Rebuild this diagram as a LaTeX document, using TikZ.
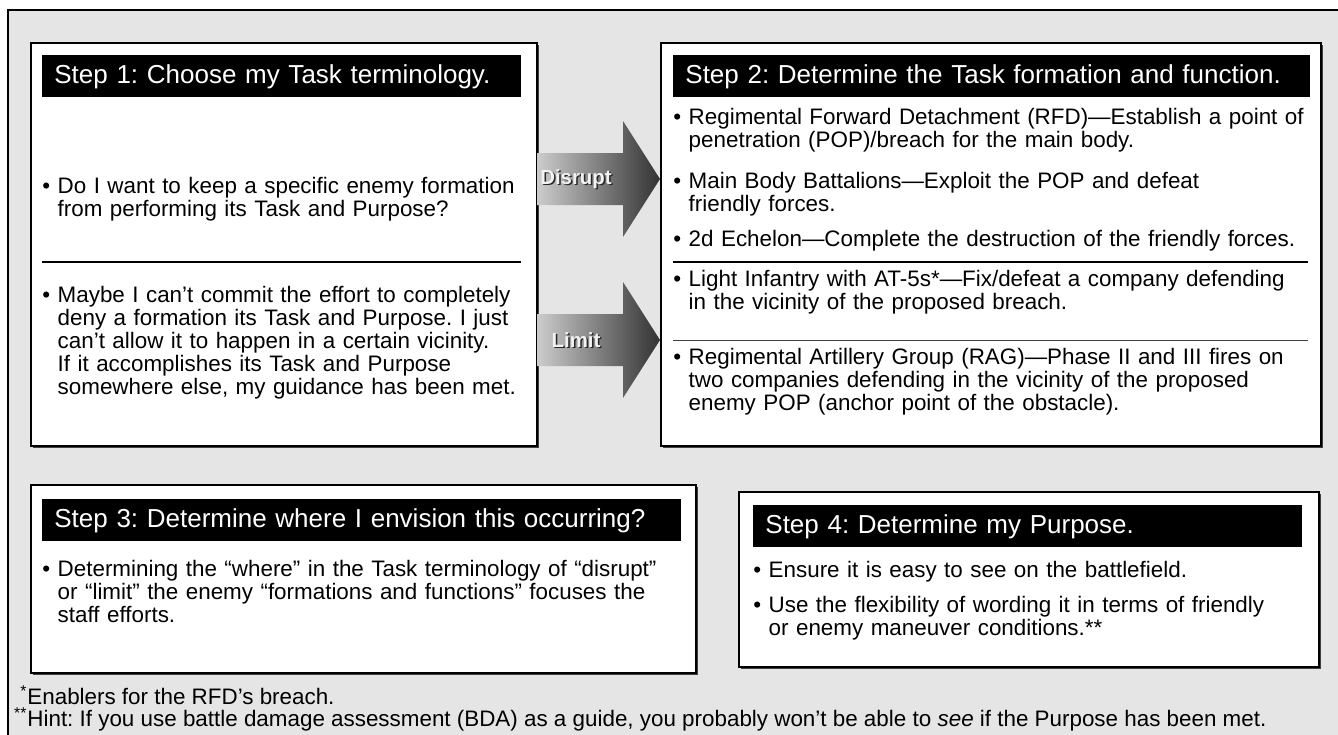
\documentclass[tikz,border=0pt]{standalone}
\usepackage{fontspec}
\setmainfont{Liberation Sans}
\usetikzlibrary{shadows}

\def\px{0.5pt}
\newcommand\txtfont{\frenchspacing\fontsize{11.2}{11.5}\selectfont}
\newcommand\hdfont{\frenchspacing\fontsize{13}{15}\selectfont}
\newlength\bulwd
\newcommand\bitem[1]{\settowidth\bulwd{\textbullet\ }\hangindent=\bulwd\hangafter=1\textbullet\ #1\par}

\begin{document}
\begin{tikzpicture}[x=\px,y=-\px]
  \tikzset{panel/.style={draw,line width=.8pt,fill=white,anchor=north west,inner sep=0pt,
      drop shadow={shadow xshift=1pt,shadow yshift=-1pt,fill=black!75,opacity=1}},
    header/.style={fill=black,text=white,anchor=north west,inner xsep=6pt,inner ysep=0pt,
      minimum height=42*\px,text width=#1*\px-12pt,align=left,font=\hdfont},
    bullets/.style={anchor=base west,inner sep=0pt,text width=#1*\px,align=left,font=\txtfont},
    arrowtext/.style={inner sep=0pt,font=\fontsize{10.2}{12}\selectfont\bfseries}}

  \useasboundingbox (0,0) rectangle (1338,734);
  \draw[fill=black!10,line width=1pt] (8,10) rectangle (1360,760);

  % the four steps
  \node[panel,minimum width=506*\px,minimum height=403*\px] (step1) at (30,42) {};
  \node[panel,minimum width=660*\px,minimum height=403*\px] (step2) at (660,42) {};
  \node[panel,minimum width=665*\px,minimum height=188*\px] (step3) at (30,484) {};
  \node[panel,minimum width=580*\px,minimum height=175*\px] (step4) at (738,491) {};

  \node[header=479] (head1) at (42,55) {Step 1: Choose my Task terminology.};
  \node[header=637] (head2) at (673,55) {Step 2: Determine the Task formation and function.};
  \node[header=639] (head3) at (42,499) {Step 3: Determine where I envision this occurring?};
  \node[header=549] (head4) at (753,505) {Step 4: Determine my Purpose.};

  \node[bullets=600] (task1) at (42,193) {\bitem{Do I want to keep a specific enemy formation\newline from performing its Task and Purpose?}};
  \node[bullets=600] (task2) at (42,302) {\bitem{Maybe I can’t commit the effort to completely\newline deny a formation its Task and Purpose. I just\newline can’t allow it to happen in a certain vicinity.\newline If it accomplishes its Task and Purpose\newline somewhere else, my guidance has been met.}};
  \draw[line width=1.2pt] (42,262) -- (521,262);

  \node[bullets=700] (form1) at (673,124) {\bitem{Regimental Forward Detachment (RFD)—Establish a point of\newline penetration (POP)/breach for the main body.}};
  \node[bullets=700] (form2) at (673,188) {\bitem{Main Body Battalions—Exploit the POP and defeat\newline friendly forces.}};
  \node[bullets=700] (form3) at (673,246) {\bitem{2d Echelon—Complete the destruction of the friendly forces.}};
  \draw[line width=1.2pt] (673,262) -- (1308,262);
  \node[bullets=700] (form4) at (673,286) {\bitem{Light Infantry with AT-5s*—Fix/defeat a company defending\newline in the vicinity of the proposed breach.}};
  \draw[line width=.5pt,black!75] (673,340) -- (1308,340);
  \node[bullets=700] (form5) at (673,364) {\bitem{Regimental Artillery Group (RAG)—Phase II and III fires on\newline two companies defending in the vicinity of the proposed\newline enemy POP (anchor point of the obstacle).}};

  \node[bullets=700] (where1) at (42,576) {\bitem{Determining the “where” in the Task terminology of “disrupt”\newline or “limit” the enemy “formations and functions” focuses the\newline staff efforts.}};

  \node[bullets=600] (purp1) at (753,577) {\bitem{Ensure it is easy to see on the battlefield.}};
  \node[bullets=600] (purp2) at (753,612) {\bitem{Use the flexibility of wording it in terms of friendly\newline or enemy maneuver conditions.**}};

  % shaded arrows between step 1 and step 2
  \foreach \y/\lbl in {179/Disrupt,340/Limit} {
    \shade[left color=black!20,right color=black!80] (537,\y-26) -- (623,\y-26) -- (623,\y-58)
      -- (660,\y) -- (623,\y+58) -- (623,\y+26) -- (537,\y+26) -- cycle;
    \node[arrowtext,text=black!85] (shade\lbl) at (577.5,\y+1.5) {\lbl};
    \node[arrowtext,text=black!5] (arrow\lbl) at (576,\y) {\lbl};
  }

  \node[anchor=base west,inner sep=0pt,font=\txtfont] (note1) at (9,704) {\makebox[9pt][r]{\textsuperscript{*}}Enablers for the RFD’s breach.};
  \node[anchor=base west,inner sep=0pt,font=\txtfont] (note2) at (9,726) {\makebox[9pt][r]{\textsuperscript{**}}Hint: If you use battle damage assessment (BDA) as a guide, you probably won’t be able to \emph{see} if the Purpose has been met.};
\end{tikzpicture}
\end{document}
